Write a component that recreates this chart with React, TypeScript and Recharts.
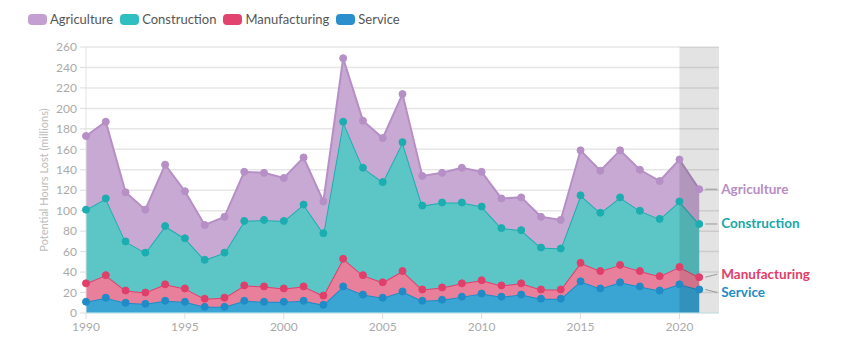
import React from "react";
import {
  AreaChart,
  Area,
  XAxis,
  YAxis,
  CartesianGrid,
  ReferenceArea,
  LabelList,
} from "recharts";

const years = [
  1990, 1991, 1992, 1993, 1994, 1995, 1996, 1997, 1998, 1999, 2000, 2001, 2002, 2003, 2004, 2005,
  2006, 2007, 2008, 2009, 2010, 2011, 2012, 2013, 2014, 2015, 2016, 2017, 2018, 2019, 2020, 2021,
];
const service = [11, 15, 10, 9, 12, 11, 6, 6, 12, 11, 11, 12, 8, 26, 18, 15, 21, 12, 13, 16, 19, 16, 18, 14, 14, 31, 24, 30, 26, 22, 28, 23];
const manufacturing = [18, 22, 12, 11, 16, 13, 8, 9, 15, 15, 13, 14, 9, 27, 19, 15, 20, 11, 12, 13, 13, 11, 11, 9, 9, 18, 17, 17, 15, 14, 17, 12];
const construction = [72, 75, 48, 39, 57, 49, 38, 44, 63, 65, 66, 80, 61, 134, 105, 98, 126, 82, 83, 79, 72, 56, 52, 41, 40, 66, 57, 66, 59, 56, 64, 52];
const agriculture = [72, 75, 48, 42, 60, 46, 34, 35, 48, 46, 42, 46, 31, 62, 46, 43, 47, 29, 29, 34, 34, 29, 32, 30, 28, 44, 41, 46, 40, 37, 41, 34];

const xTicks = [1990, 1995, 2000, 2005, 2010, 2015, 2020];
const yTicks = [0, 20, 40, 60, 80, 100, 120, 140, 160, 180, 200, 220, 240, 260];

const data = years.map((year, i) => ({
  year,
  Service: service[i],
  Manufacturing: manufacturing[i],
  Construction: construction[i],
  Agriculture: agriculture[i],
}));

// fill / stroke / label colour, plus a small vertical nudge for the end label
const series = [
  { key: "Service", fill: "#3aa5d2", stroke: "#1f8bc7", text: "#1f8bc7", dy: 3 },
  { key: "Manufacturing", fill: "#e9809b", stroke: "#e13f6b", text: "#e03d68", dy: -3 },
  { key: "Construction", fill: "#5cc6c7", stroke: "#1cadb0", text: "#17a7aa", dy: 0 },
  { key: "Agriculture", fill: "#c8a9d3", stroke: "#b58fc5", text: "#b68ec4", dy: 0 },
];

const legendItems = [
  { name: "Agriculture", color: "#c49fd1" },
  { name: "Construction", color: "#2fbfc0" },
  { name: "Manufacturing", color: "#e1446e" },
  { name: "Service", color: "#2a8fcc" },
];

const FONT = "Lato, 'Open Sans', sans-serif";

function TopLegend() {
  return (
    <div
      style={{
        position: "absolute",
        left: 28,
        top: 11,
        display: "flex",
        alignItems: "center",
        fontFamily: FONT,
        fontSize: 13,
        color: "#555",
      }}
    >
      {legendItems.map((it) => (
        <div key={it.name} style={{ display: "flex", alignItems: "center", marginRight: 7 }}>
          <span
            style={{
              display: "inline-block",
              width: 19,
              height: 11,
              borderRadius: 4,
              background: it.color,
              marginRight: 3,
            }}
          />
          {it.name}
        </div>
      ))}
    </div>
  );
}

const endLabel = (name: string, color: string, dy: number) => (props: any) => {
  const { x, y, index } = props;
  if (index !== years.length - 1) return null;
  const ly = y + dy;
  return (
    <g>
      <line x1={x + 6} y1={y} x2={x + 18} y2={ly} stroke="#999" strokeWidth={1} />
      <text
        x={x + 22}
        y={ly}
        dy={4.5}
        fill={color}
        fontFamily={FONT}
        fontSize={13.5}
        fontWeight={700}
      >
        {name}
      </text>
    </g>
  );
};

export default function App() {
  return (
    <div style={{ position: "absolute", left: 0, top: 0, width: 856, height: 355, background: "#fff" }}>
      <TopLegend />
      <AreaChart
        width={856}
        height={355}
        data={data}
        margin={{ top: 47, right: 137, bottom: 12, left: 0 }}
      >
        <CartesianGrid vertical={false} stroke="#e6e6e6" strokeWidth={1.5} />
        <XAxis
          dataKey="year"
          type="number"
          domain={[1990, 2022]}
          ticks={xTicks}
          height={30}
          tickLine={{ stroke: "#ddd" }}
          axisLine={{ stroke: "#ccecef" }}
          tick={{ fill: "#aaa", fontSize: 12, fontFamily: FONT }}
          tickMargin={3}
        />
        <YAxis
          width={86}
          domain={[0, 260]}
          ticks={yTicks}
          interval={0}
          tickLine={{ stroke: "#ddd" }}
          axisLine={{ stroke: "#e2e2e2" }}
          tick={{ fill: "#aaa", fontSize: 12, fontFamily: FONT }}
          tickMargin={3}
          label={{
            value: "Potential Hours Lost (millions)",
            angle: -90,
            position: "center",
            dx: 1,
            style: { fill: "#bbb", fontSize: 11, fontFamily: FONT },
          }}
        />
        {series.map((s) => (
          <Area
            key={s.key}
            type="linear"
            dataKey={s.key}
            stackId="1"
            fill={s.fill}
            fillOpacity={1}
            stroke={s.stroke}
            strokeWidth={2}
            dot={{ r: 3.5, fill: s.stroke, stroke: s.stroke, strokeWidth: 1 }}
            activeDot={false}
            isAnimationActive={false}
          >
            <LabelList content={endLabel(s.key, s.text, s.dy)} />
          </Area>
        ))}
        <ReferenceArea
          x1={2020}
          x2={2022}
          y1={0}
          y2={260}
          fill="#000"
          fillOpacity={0.11}
          stroke="none"
          ifOverflow="visible"
        />
      </AreaChart>
    </div>
  );
}
